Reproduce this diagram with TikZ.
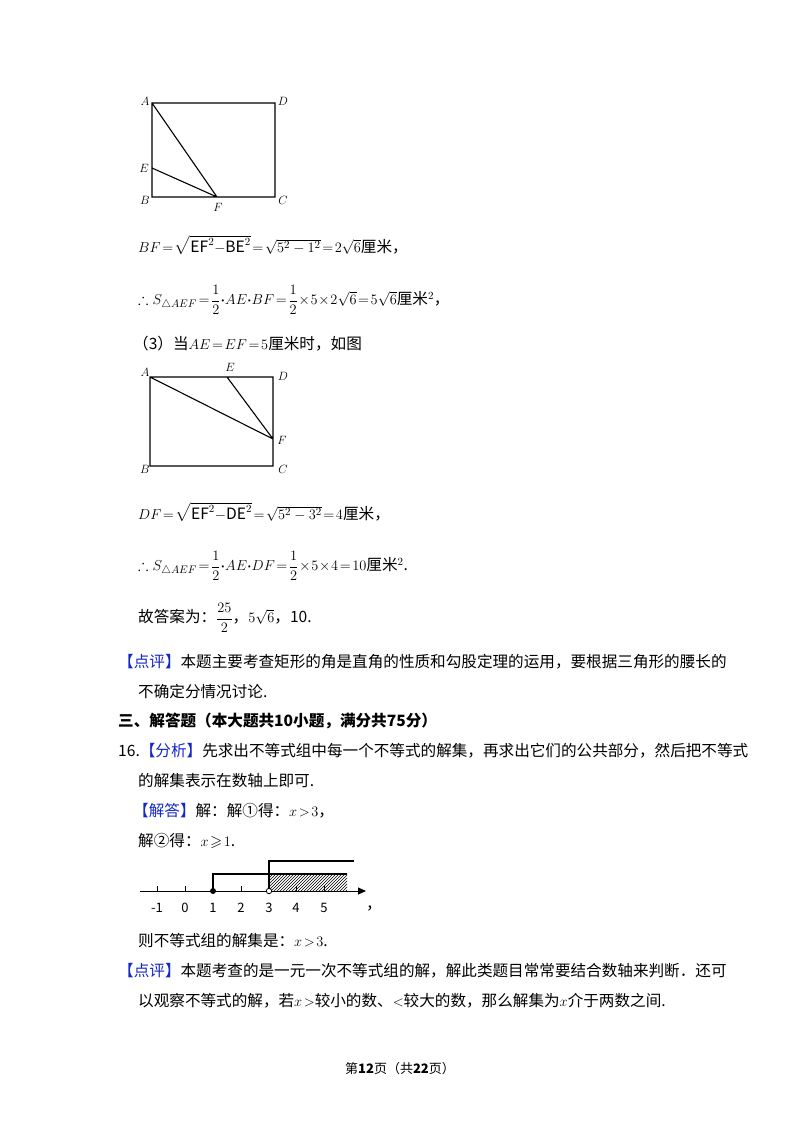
\documentclass[tikz,border=0pt]{standalone}
\usepackage{amsmath,amssymb}
\usepackage{fontspec}
\setmainfont{Noto Sans CJK SC}
\usetikzlibrary{patterns,arrows.meta}
\definecolor{pb}{RGB}{20,40,200}
\tikzset{t/.style={anchor=west,inner sep=0pt,font=\fontsize{15.6}{17}\selectfont},
 lab/.style={inner sep=0pt,font=\fontsize{13}{13}\selectfont\itshape},
 ln/.style={line width=1.1pt}}
\newcommand{\pp}{{\color{pb}【点评】}}
\newcommand{\dt}{{\boldsymbol{\cdot}}}
\begin{document}
\begin{tikzpicture}[x=1pt,y=-1pt]
\useasboundingbox[fill=white] (0,0) rectangle (800,1132);
% figure 1
\coordinate (A) at (152,103); \coordinate (D) at (275,103); \coordinate (C) at (275,197); \coordinate (B) at (152,197);
\coordinate (E) at (152,168); \coordinate (F) at (217,197);
\draw[ln] (A)--(D)--(C)--(B)--cycle (A)--(F) (E)--(F);
\node[lab] at (145,101) {$A$}; \node[lab] at (283,101) {$D$}; \node[lab] at (144,168) {$E$};
\node[lab] at (145,200) {$B$}; \node[lab] at (218,207) {$F$}; \node[lab] at (283,200) {$C$};
\node[t] at (138,245) {$BF\!=\!\sqrt{\mathrm{EF}^2\mathrm{-BE}^2}\!=\!\sqrt{5^2-1^2}\!=\!2\sqrt6$厘米，};
\node[t] at (138,300) {$\therefore S_{\triangle AEF}\!=\!\dfrac12\dt AE\dt BF\!=\!\dfrac12\!\times\!5\!\times\!2\sqrt6\!=\!5\sqrt6$厘米$^2$，};
\node[t] at (133,344) {（3）当$AE\!=\!EF\!=\!5$厘米时，如图};
% figure 2
\coordinate (A2) at (150,377); \coordinate (D2) at (273,377); \coordinate (C2) at (273,466); \coordinate (B2) at (150,466);
\coordinate (E2) at (227,377); \coordinate (F2) at (273,439);
\draw[ln] (A2)--(D2)--(C2)--(B2)--cycle (A2)--(F2) (E2)--(F2);
\node[lab] at (145,372) {$A$}; \node[lab] at (230,367) {$E$}; \node[lab] at (283,376) {$D$};
\node[lab] at (282,440) {$F$}; \node[lab] at (145,469) {$B$}; \node[lab] at (283,469) {$C$};
\node[t] at (138,512) {$DF\!=\!\sqrt{\mathrm{EF}^2\mathrm{-DE}^2}\!=\!\sqrt{5^2-3^2}\!=\!4$厘米，};
\node[t] at (138,566) {$\therefore S_{\triangle AEF}\!=\!\dfrac12\dt AE\dt DF\!=\!\dfrac12\!\times\!5\!\times\!4\!=\!10$厘米$^2$.};
\node[t] at (138,618) {故答案为：$\dfrac{25}{2}$，$5\sqrt6$，10.};
\node[t] at (118,662) {\pp 本题主要考查矩形的角是直角的性质和勾股定理的运用，要根据三角形的腰长的};
\node[t] at (138,692) {不确定分情况讨论.};
\node[t] at (118,721) {\bfseries 三、解答题（本大题共10小题，满分共75分）};
\node[t] at (118,751) {16.{\color{pb}【分析】}先求出不等式组中每一个不等式的解集，再求出它们的公共部分，然后把不等式};
\node[t] at (138,781) {的解集表示在数轴上即可.};
\node[t] at (133,811) {{\color{pb}【解答】}解：解①得：$x\!>\!3$，};
\node[t] at (138,841) {解②得：$x\!\geqslant\!1$.};
% number line
\coordinate (L) at (140,891); \coordinate (R) at (366,891);
\fill[pattern=north east lines] (269,874) rectangle (347,891);
\draw[line width=0.9pt,-{Triangle[length=8pt,width=7pt]}] (L)--(R);
\foreach \x/\n in {157/-1,185/0,213/1,241/2,269/3,296/4,324/5}{
 \draw[line width=0.9pt] (\x,891)--(\x,886);
 \node[inner sep=0pt,font=\fontsize{13}{13}\selectfont] at (\x,908) {\n};}
\draw[line width=1.1pt] (213,891)--(213,874)--(347,874);
\draw[line width=1.1pt] (269,891)--(269,861)--(354,861);
\fill (213,891) circle (3pt);
\draw[fill=white,line width=0.8pt] (269,891) circle (2.7pt);
\node[t] at (366,908) {，};
\node[t] at (138,941) {则不等式组的解集是：$x\!>\!3$.};
\node[t] at (118,971) {\pp 本题考查的是一元一次不等式组的解，解此类题目常常要结合数轴来判断．还可};
\node[t] at (138,1001) {以观察不等式的解，若$x\!>$较小的数、$<$较大的数，那么解集为$x$介于两数之间.};
\node[inner sep=0pt,font=\fontsize{13}{13}\selectfont] at (400,1069) {第\textbf{12}页（共\textbf{22}页）};
\end{tikzpicture}
\end{document}
